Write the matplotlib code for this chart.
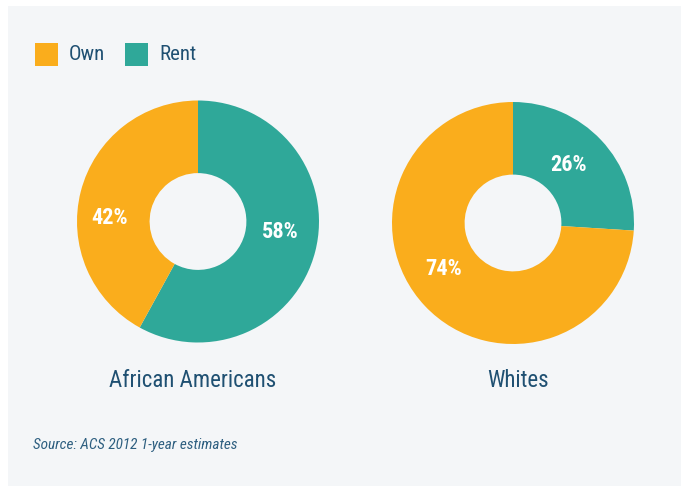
import numpy as np
import matplotlib
matplotlib.use("Agg")
import matplotlib.pyplot as plt
from matplotlib.patches import Rectangle
from matplotlib import font_manager

groups = ["African Americans", "Whites"]
categories = ["Rent", "Own"]
rent = [58, 26]
own = [42, 74]
source = "Source: ACS 2012 1-year estimates"

ORANGE = "#FAAD1C"
TEAL = "#2FA899"
TEXT = "#1F5072"
PANEL = "#F4F6F8"

# small nudges of the percent labels (angle offset in degrees, radius)
label_nudge = [[(7, 0.69), (12, 0.73)], [(3, 0.66), (-10, 0.69)]]

names = {f.name for f in font_manager.fontManager.ttflist}
cond = "DejaVu Sans"
for cand in ["Roboto Condensed", "Liberation Sans Narrow", "Roboto"]:
    if cand in names:
        cond = cand
        break

W, H = 681, 486
fig = plt.figure(figsize=(W / 100, H / 100), dpi=100)
fig.patch.set_facecolor("white")
fig.patches.append(Rectangle((8 / W, 0), 1 - 8 / W, 1 - 6 / H,
                             transform=fig.transFigure, facecolor=PANEL,
                             edgecolor="none", zorder=-5))

# donut positions in pixels: (left, bottom-from-top, size)
boxes = [(77, 342.5, 242), (392, 344, 242)]
title_x = [192.5, 518]

for i, g in enumerate(groups):
    left, btm, size = boxes[i]
    ax = fig.add_axes([left / W, (H - btm) / H, size / W, size / H])
    ax.set_facecolor("none")
    vals = [rent[i], own[i]]
    wedges, texts, autotexts = ax.pie(
        vals, colors=[TEAL, ORANGE], startangle=90, counterclock=False,
        radius=1, wedgeprops=dict(width=0.6, edgecolor="none"),
        autopct="%d%%", pctdistance=0.7,
        textprops=dict(color="white", fontsize=16, fontweight="bold", family=cond))
    for w, t, (dth, r) in zip(wedges, autotexts, label_nudge[i]):
        mid = np.deg2rad((w.theta1 + w.theta2) / 2 + dth)
        t.set_position((r * np.cos(mid), r * np.sin(mid)))
    ax.set_xlim(-1, 1)
    ax.set_ylim(-1, 1)
    ax.set_aspect("equal")
    ax.axis("off")
    fig.text(title_x[i] / W, 1 - 380 / H, g, ha="center", va="center",
             fontsize=16.5, color=TEXT, family=cond)

# legend
leg_x = [35, 125]
for j, (lab, col) in enumerate([("Own", ORANGE), ("Rent", TEAL)]):
    fig.patches.append(Rectangle((leg_x[j] / W, 1 - 66 / H), 23 / W, 23 / H,
                                 transform=fig.transFigure, facecolor=col,
                                 edgecolor="none"))
    fig.text((leg_x[j] + 34) / W, 1 - 54.5 / H, lab, ha="left", va="center",
             fontsize=15, color=TEXT, family=cond)

fig.text(33 / W, 1 - 445 / H, source, ha="left", va="center",
         fontsize=11, color="#2E5F80", family=cond, style="italic")

fig.savefig("out.png", dpi=100, facecolor=fig.get_facecolor())
